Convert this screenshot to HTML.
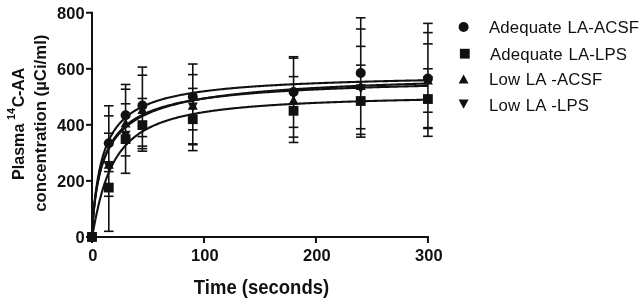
<!DOCTYPE html>
<html><head><meta charset="utf-8"><style>
html,body{margin:0;padding:0;background:#fff;}
svg{display:block;will-change:transform;}
text{font-family:"Liberation Sans",sans-serif;fill:#111;}
.tk{font-weight:bold;font-size:16.5px;}
.lg{font-size:16.8px;word-spacing:0.9px;letter-spacing:0.12px;}
.ti{font-weight:bold;font-size:18.5px;}
.yt{font-weight:bold;font-size:16.6px;}
</style></head><body>
<svg width="644" height="304" viewBox="0 0 644 304">
<rect width="644" height="304" fill="#fff"/>
<g fill="none" stroke="#111" stroke-width="2.1"><polyline points="92.00,236.90 92.28,231.21 92.56,226.58 92.84,222.44 93.12,218.64 93.40,215.12 93.68,211.83 93.96,208.74 94.24,205.83 94.52,203.07 94.80,200.45 95.08,197.96 95.36,195.59 95.64,193.32 95.92,191.15 96.20,189.08 96.48,187.09 96.76,185.17 97.04,183.33 97.32,181.56 97.60,179.86 97.88,178.21 98.16,176.63 98.44,175.09 98.72,173.61 99.00,172.18 99.28,170.79 99.56,169.44 99.84,168.14 100.12,166.88 100.40,165.65 100.68,164.46 100.96,163.30 101.24,162.17 101.52,161.08 101.80,160.01 102.08,158.98 102.36,157.97 102.64,156.99 102.92,156.03 103.20,155.09 104.32,151.58 105.44,148.38 106.56,145.45 107.68,142.76 108.80,140.28 109.92,137.99 111.03,135.86 112.15,133.87 113.27,132.02 114.39,130.28 115.51,128.66 116.63,127.13 117.75,125.68 118.87,124.32 119.99,123.03 121.11,121.81 122.23,120.65 123.35,119.55 124.47,118.50 125.59,117.50 126.71,116.55 127.83,115.64 128.95,114.77 130.07,113.94 131.19,113.14 132.31,112.37 133.43,111.64 134.55,110.93 135.67,110.25 136.79,109.60 137.91,108.97 139.03,108.36 140.15,107.78 141.27,107.21 142.39,106.66 143.51,106.14 144.63,105.62 145.75,105.13 146.87,104.65 147.99,104.19 149.10,103.74 150.22,103.30 151.34,102.88 152.46,102.47 153.58,102.07 154.70,101.68 155.82,101.31 156.94,100.94 158.06,100.58 159.18,100.24 160.30,99.90 161.42,99.57 162.54,99.25 163.66,98.94 164.78,98.63 165.90,98.33 167.02,98.04 168.14,97.76 169.26,97.49 170.38,97.22 171.50,96.95 172.62,96.69 173.74,96.44 174.86,96.20 175.98,95.95 177.10,95.72 178.22,95.49 179.34,95.26 180.46,95.04 181.58,94.83 182.70,94.61 183.82,94.41 184.94,94.20 186.05,94.00 187.17,93.81 188.29,93.62 189.41,93.43 190.53,93.24 191.65,93.06 192.77,92.88 193.89,92.71 195.01,92.54 196.13,92.37 197.25,92.21 198.37,92.04 199.49,91.88 200.61,91.73 201.73,91.57 202.85,91.42 203.97,91.27 205.09,91.13 206.21,90.99 207.33,90.84 208.45,90.71 209.57,90.57 210.69,90.43 211.81,90.30 212.93,90.17 214.05,90.04 215.17,89.92 216.29,89.79 217.41,89.67 218.53,89.55 219.65,89.43 220.77,89.32 221.89,89.20 223.00,89.09 224.12,88.97 225.24,88.86 226.36,88.76 227.48,88.65 228.60,88.54 229.72,88.44 230.84,88.34 231.96,88.24 233.08,88.14 234.20,88.04 235.32,87.94 236.44,87.85 237.56,87.75 238.68,87.66 239.80,87.57 240.92,87.47 242.04,87.39 243.16,87.30 244.28,87.21 245.40,87.12 246.52,87.04 247.64,86.95 248.76,86.87 249.88,86.79 251.00,86.71 252.12,86.63 253.24,86.55 254.36,86.47 255.48,86.39 256.60,86.32 257.72,86.24 258.84,86.17 259.95,86.09 261.07,86.02 262.19,85.95 263.31,85.88 264.43,85.81 265.55,85.74 266.67,85.67 267.79,85.60 268.91,85.54 270.03,85.47 271.15,85.40 272.27,85.34 273.39,85.28 274.51,85.21 275.63,85.15 276.75,85.09 277.87,85.03 278.99,84.96 280.11,84.90 281.23,84.84 282.35,84.79 283.47,84.73 284.59,84.67 285.71,84.61 286.83,84.56 287.95,84.50 289.07,84.44 290.19,84.39 291.31,84.34 292.43,84.28 293.55,84.23 294.67,84.18 295.79,84.12 296.91,84.07 298.02,84.02 299.14,83.97 300.26,83.92 301.38,83.87 302.50,83.82 303.62,83.77 304.74,83.72 305.86,83.68 306.98,83.63 308.10,83.58 309.22,83.53 310.34,83.49 311.46,83.44 312.58,83.40 313.70,83.35 314.82,83.31 315.94,83.26 317.06,83.22 318.18,83.18 319.30,83.13 320.42,83.09 321.54,83.05 322.66,83.01 323.78,82.97 324.90,82.92 326.02,82.88 327.14,82.84 328.26,82.80 329.38,82.76 330.50,82.72 331.62,82.69 332.74,82.65 333.86,82.61 334.97,82.57 336.09,82.53 337.21,82.49 338.33,82.46 339.45,82.42 340.57,82.38 341.69,82.35 342.81,82.31 343.93,82.28 345.05,82.24 346.17,82.21 347.29,82.17 348.41,82.14 349.53,82.10 350.65,82.07 351.77,82.03 352.89,82.00 354.01,81.97 355.13,81.93 356.25,81.90 357.37,81.87 358.49,81.84 359.61,81.80 360.73,81.77 361.85,81.74 362.97,81.71 364.09,81.68 365.21,81.65 366.33,81.62 367.45,81.59 368.57,81.56 369.69,81.53 370.81,81.50 371.92,81.47 373.04,81.44 374.16,81.41 375.28,81.38 376.40,81.35 377.52,81.32 378.64,81.29 379.76,81.27 380.88,81.24 382.00,81.21 383.12,81.18 384.24,81.16 385.36,81.13 386.48,81.10 387.60,81.08 388.72,81.05 389.84,81.02 390.96,81.00 392.08,80.97 393.20,80.94 394.32,80.92 395.44,80.89 396.56,80.87 397.68,80.84 398.80,80.82 399.92,80.79 401.04,80.77 402.16,80.74 403.28,80.72 404.40,80.70 405.52,80.67 406.64,80.65 407.76,80.62 408.88,80.60 409.99,80.58 411.11,80.55 412.23,80.53 413.35,80.51 414.47,80.48 415.59,80.46 416.71,80.44 417.83,80.42 418.95,80.39 420.07,80.37 421.19,80.35 422.31,80.33 423.43,80.31 424.55,80.28 425.67,80.26 426.79,80.24 427.91,80.22"/><polyline points="92.00,236.90 92.28,229.43 92.56,224.51 92.84,220.39 93.12,216.76 93.40,213.50 93.68,210.51 93.96,207.74 94.24,205.17 94.52,202.75 94.80,200.48 95.08,198.34 95.36,196.30 95.64,194.37 95.92,192.52 96.20,190.76 96.48,189.07 96.76,187.45 97.04,185.89 97.32,184.40 97.60,182.96 97.88,181.57 98.16,180.23 98.44,178.93 98.72,177.68 99.00,176.46 99.28,175.29 99.56,174.14 99.84,173.04 100.12,171.96 100.40,170.92 100.68,169.90 100.96,168.91 101.24,167.95 101.52,167.01 101.80,166.10 102.08,165.21 102.36,164.34 102.64,163.49 102.92,162.66 103.20,161.85 104.32,158.79 105.44,155.98 106.56,153.40 107.68,151.00 108.80,148.77 109.92,146.70 111.03,144.75 112.15,142.93 113.27,141.22 114.39,139.60 115.51,138.07 116.63,136.62 117.75,135.25 118.87,133.94 119.99,132.70 121.11,131.52 122.23,130.38 123.35,129.30 124.47,128.27 125.59,127.28 126.71,126.32 127.83,125.41 128.95,124.53 130.07,123.69 131.19,122.87 132.31,122.09 133.43,121.33 134.55,120.60 135.67,119.89 136.79,119.21 137.91,118.55 139.03,117.91 140.15,117.29 141.27,116.69 142.39,116.10 143.51,115.54 144.63,114.99 145.75,114.45 146.87,113.94 147.99,113.43 149.10,112.94 150.22,112.46 151.34,112.00 152.46,111.54 153.58,111.10 154.70,110.67 155.82,110.25 156.94,109.84 158.06,109.44 159.18,109.05 160.30,108.67 161.42,108.30 162.54,107.93 163.66,107.57 164.78,107.23 165.90,106.89 167.02,106.55 168.14,106.23 169.26,105.91 170.38,105.59 171.50,105.29 172.62,104.99 173.74,104.69 174.86,104.40 175.98,104.12 177.10,103.84 178.22,103.57 179.34,103.30 180.46,103.04 181.58,102.78 182.70,102.53 183.82,102.28 184.94,102.04 186.05,101.80 187.17,101.56 188.29,101.33 189.41,101.11 190.53,100.88 191.65,100.66 192.77,100.45 193.89,100.24 195.01,100.03 196.13,99.82 197.25,99.62 198.37,99.42 199.49,99.22 200.61,99.03 201.73,98.84 202.85,98.65 203.97,98.47 205.09,98.29 206.21,98.11 207.33,97.93 208.45,97.76 209.57,97.59 210.69,97.42 211.81,97.25 212.93,97.09 214.05,96.93 215.17,96.77 216.29,96.61 217.41,96.46 218.53,96.31 219.65,96.15 220.77,96.01 221.89,95.86 223.00,95.71 224.12,95.57 225.24,95.43 226.36,95.29 227.48,95.15 228.60,95.02 229.72,94.88 230.84,94.75 231.96,94.62 233.08,94.49 234.20,94.36 235.32,94.24 236.44,94.11 237.56,93.99 238.68,93.87 239.80,93.75 240.92,93.63 242.04,93.51 243.16,93.40 244.28,93.28 245.40,93.17 246.52,93.06 247.64,92.95 248.76,92.84 249.88,92.73 251.00,92.62 252.12,92.51 253.24,92.41 254.36,92.31 255.48,92.20 256.60,92.10 257.72,92.00 258.84,91.90 259.95,91.80 261.07,91.71 262.19,91.61 263.31,91.51 264.43,91.42 265.55,91.33 266.67,91.23 267.79,91.14 268.91,91.05 270.03,90.96 271.15,90.87 272.27,90.79 273.39,90.70 274.51,90.61 275.63,90.53 276.75,90.44 277.87,90.36 278.99,90.28 280.11,90.19 281.23,90.11 282.35,90.03 283.47,89.95 284.59,89.87 285.71,89.80 286.83,89.72 287.95,89.64 289.07,89.56 290.19,89.49 291.31,89.41 292.43,89.34 293.55,89.27 294.67,89.19 295.79,89.12 296.91,89.05 298.02,88.98 299.14,88.91 300.26,88.84 301.38,88.77 302.50,88.70 303.62,88.63 304.74,88.57 305.86,88.50 306.98,88.43 308.10,88.37 309.22,88.30 310.34,88.24 311.46,88.17 312.58,88.11 313.70,88.05 314.82,87.98 315.94,87.92 317.06,87.86 318.18,87.80 319.30,87.74 320.42,87.68 321.54,87.62 322.66,87.56 323.78,87.50 324.90,87.44 326.02,87.38 327.14,87.33 328.26,87.27 329.38,87.21 330.50,87.16 331.62,87.10 332.74,87.05 333.86,86.99 334.97,86.94 336.09,86.88 337.21,86.83 338.33,86.78 339.45,86.72 340.57,86.67 341.69,86.62 342.81,86.57 343.93,86.51 345.05,86.46 346.17,86.41 347.29,86.36 348.41,86.31 349.53,86.26 350.65,86.21 351.77,86.17 352.89,86.12 354.01,86.07 355.13,86.02 356.25,85.97 357.37,85.93 358.49,85.88 359.61,85.83 360.73,85.79 361.85,85.74 362.97,85.70 364.09,85.65 365.21,85.61 366.33,85.56 367.45,85.52 368.57,85.47 369.69,85.43 370.81,85.38 371.92,85.34 373.04,85.30 374.16,85.26 375.28,85.21 376.40,85.17 377.52,85.13 378.64,85.09 379.76,85.05 380.88,85.01 382.00,84.96 383.12,84.92 384.24,84.88 385.36,84.84 386.48,84.80 387.60,84.76 388.72,84.73 389.84,84.69 390.96,84.65 392.08,84.61 393.20,84.57 394.32,84.53 395.44,84.49 396.56,84.46 397.68,84.42 398.80,84.38 399.92,84.35 401.04,84.31 402.16,84.27 403.28,84.24 404.40,84.20 405.52,84.16 406.64,84.13 407.76,84.09 408.88,84.06 409.99,84.02 411.11,83.99 412.23,83.95 413.35,83.92 414.47,83.88 415.59,83.85 416.71,83.82 417.83,83.78 418.95,83.75 420.07,83.72 421.19,83.68 422.31,83.65 423.43,83.62 424.55,83.58 425.67,83.55 426.79,83.52 427.91,83.49"/><polyline points="92.00,236.90 92.28,230.80 92.56,226.27 92.84,222.32 93.12,218.77 93.40,215.51 93.68,212.49 93.96,209.68 94.24,207.03 94.52,204.54 94.80,202.18 95.08,199.94 95.36,197.81 95.64,195.78 95.92,193.83 96.20,191.97 96.48,190.19 96.76,188.47 97.04,186.83 97.32,185.24 97.60,183.71 97.88,182.24 98.16,180.81 98.44,179.43 98.72,178.10 99.00,176.81 99.28,175.56 99.56,174.35 99.84,173.17 100.12,172.03 100.40,170.92 100.68,169.84 100.96,168.79 101.24,167.77 101.52,166.78 101.80,165.81 102.08,164.86 102.36,163.94 102.64,163.05 102.92,162.17 103.20,161.32 104.32,158.09 105.44,155.14 106.56,152.43 107.68,149.93 108.80,147.61 109.92,145.46 111.03,143.45 112.15,141.57 113.27,139.81 114.39,138.15 115.51,136.59 116.63,135.12 117.75,133.73 118.87,132.41 119.99,131.15 121.11,129.96 122.23,128.83 123.35,127.75 124.47,126.72 125.59,125.73 126.71,124.79 127.83,123.89 128.95,123.02 130.07,122.19 131.19,121.39 132.31,120.62 133.43,119.88 134.55,119.17 135.67,118.48 136.79,117.82 137.91,117.18 139.03,116.56 140.15,115.97 141.27,115.39 142.39,114.83 143.51,114.29 144.63,113.76 145.75,113.25 146.87,112.76 147.99,112.28 149.10,111.81 150.22,111.36 151.34,110.92 152.46,110.50 153.58,110.08 154.70,109.67 155.82,109.28 156.94,108.90 158.06,108.52 159.18,108.16 160.30,107.80 161.42,107.46 162.54,107.12 163.66,106.79 164.78,106.46 165.90,106.15 167.02,105.84 168.14,105.54 169.26,105.25 170.38,104.96 171.50,104.68 172.62,104.40 173.74,104.13 174.86,103.87 175.98,103.61 177.10,103.36 178.22,103.11 179.34,102.86 180.46,102.63 181.58,102.39 182.70,102.16 183.82,101.94 184.94,101.72 186.05,101.50 187.17,101.29 188.29,101.08 189.41,100.88 190.53,100.68 191.65,100.48 192.77,100.29 193.89,100.10 195.01,99.91 196.13,99.72 197.25,99.54 198.37,99.37 199.49,99.19 200.61,99.02 201.73,98.85 202.85,98.68 203.97,98.52 205.09,98.36 206.21,98.20 207.33,98.05 208.45,97.89 209.57,97.74 210.69,97.59 211.81,97.45 212.93,97.30 214.05,97.16 215.17,97.02 216.29,96.88 217.41,96.75 218.53,96.61 219.65,96.48 220.77,96.35 221.89,96.22 223.00,96.09 224.12,95.97 225.24,95.85 226.36,95.73 227.48,95.61 228.60,95.49 229.72,95.37 230.84,95.26 231.96,95.14 233.08,95.03 234.20,94.92 235.32,94.81 236.44,94.70 237.56,94.60 238.68,94.49 239.80,94.39 240.92,94.28 242.04,94.18 243.16,94.08 244.28,93.98 245.40,93.89 246.52,93.79 247.64,93.70 248.76,93.60 249.88,93.51 251.00,93.42 252.12,93.33 253.24,93.24 254.36,93.15 255.48,93.06 256.60,92.97 257.72,92.89 258.84,92.80 259.95,92.72 261.07,92.64 262.19,92.55 263.31,92.47 264.43,92.39 265.55,92.31 266.67,92.23 267.79,92.16 268.91,92.08 270.03,92.00 271.15,91.93 272.27,91.85 273.39,91.78 274.51,91.71 275.63,91.64 276.75,91.56 277.87,91.49 278.99,91.42 280.11,91.35 281.23,91.29 282.35,91.22 283.47,91.15 284.59,91.08 285.71,91.02 286.83,90.95 287.95,90.89 289.07,90.82 290.19,90.76 291.31,90.70 292.43,90.64 293.55,90.57 294.67,90.51 295.79,90.45 296.91,90.39 298.02,90.33 299.14,90.27 300.26,90.22 301.38,90.16 302.50,90.10 303.62,90.04 304.74,89.99 305.86,89.93 306.98,89.88 308.10,89.82 309.22,89.77 310.34,89.71 311.46,89.66 312.58,89.61 313.70,89.56 314.82,89.50 315.94,89.45 317.06,89.40 318.18,89.35 319.30,89.30 320.42,89.25 321.54,89.20 322.66,89.15 323.78,89.10 324.90,89.06 326.02,89.01 327.14,88.96 328.26,88.91 329.38,88.87 330.50,88.82 331.62,88.77 332.74,88.73 333.86,88.68 334.97,88.64 336.09,88.59 337.21,88.55 338.33,88.51 339.45,88.46 340.57,88.42 341.69,88.38 342.81,88.34 343.93,88.29 345.05,88.25 346.17,88.21 347.29,88.17 348.41,88.13 349.53,88.09 350.65,88.05 351.77,88.01 352.89,87.97 354.01,87.93 355.13,87.89 356.25,87.85 357.37,87.81 358.49,87.77 359.61,87.74 360.73,87.70 361.85,87.66 362.97,87.62 364.09,87.59 365.21,87.55 366.33,87.51 367.45,87.48 368.57,87.44 369.69,87.41 370.81,87.37 371.92,87.34 373.04,87.30 374.16,87.27 375.28,87.23 376.40,87.20 377.52,87.16 378.64,87.13 379.76,87.10 380.88,87.06 382.00,87.03 383.12,87.00 384.24,86.97 385.36,86.93 386.48,86.90 387.60,86.87 388.72,86.84 389.84,86.81 390.96,86.77 392.08,86.74 393.20,86.71 394.32,86.68 395.44,86.65 396.56,86.62 397.68,86.59 398.80,86.56 399.92,86.53 401.04,86.50 402.16,86.47 403.28,86.44 404.40,86.41 405.52,86.38 406.64,86.36 407.76,86.33 408.88,86.30 409.99,86.27 411.11,86.24 412.23,86.22 413.35,86.19 414.47,86.16 415.59,86.13 416.71,86.11 417.83,86.08 418.95,86.05 420.07,86.03 421.19,86.00 422.31,85.97 423.43,85.95 424.55,85.92 425.67,85.89 426.79,85.87 427.91,85.84"/><polyline points="92.00,236.90 92.28,235.70 92.56,234.32 92.84,232.88 93.12,231.41 93.40,229.94 93.68,228.46 93.96,226.99 94.24,225.52 94.52,224.06 94.80,222.62 95.08,221.20 95.36,219.79 95.64,218.39 95.92,217.02 96.20,215.66 96.48,214.33 96.76,213.01 97.04,211.72 97.32,210.44 97.60,209.18 97.88,207.95 98.16,206.73 98.44,205.53 98.72,204.35 99.00,203.19 99.28,202.05 99.56,200.93 99.84,199.82 100.12,198.74 100.40,197.67 100.68,196.62 100.96,195.58 101.24,194.57 101.52,193.57 101.80,192.58 102.08,191.62 102.36,190.67 102.64,189.73 102.92,188.81 103.20,187.90 104.32,184.42 105.44,181.15 106.56,178.08 107.68,175.20 108.80,172.48 109.92,169.92 111.03,167.51 112.15,165.23 113.27,163.07 114.39,161.02 115.51,159.09 116.63,157.25 117.75,155.50 118.87,153.84 119.99,152.26 121.11,150.75 122.23,149.31 123.35,147.94 124.47,146.63 125.59,145.37 126.71,144.17 127.83,143.02 128.95,141.92 130.07,140.86 131.19,139.84 132.31,138.86 133.43,137.93 134.55,137.02 135.67,136.15 136.79,135.31 137.91,134.51 139.03,133.73 140.15,132.98 141.27,132.25 142.39,131.55 143.51,130.87 144.63,130.21 145.75,129.58 146.87,128.97 147.99,128.37 149.10,127.79 150.22,127.24 151.34,126.69 152.46,126.17 153.58,125.66 154.70,125.16 155.82,124.68 156.94,124.21 158.06,123.76 159.18,123.32 160.30,122.89 161.42,122.47 162.54,122.06 163.66,121.66 164.78,121.28 165.90,120.90 167.02,120.53 168.14,120.17 169.26,119.83 170.38,119.49 171.50,119.15 172.62,118.83 173.74,118.51 174.86,118.20 175.98,117.90 177.10,117.61 178.22,117.32 179.34,117.04 180.46,116.76 181.58,116.49 182.70,116.23 183.82,115.97 184.94,115.72 186.05,115.47 187.17,115.23 188.29,114.99 189.41,114.76 190.53,114.53 191.65,114.31 192.77,114.09 193.89,113.88 195.01,113.67 196.13,113.46 197.25,113.26 198.37,113.06 199.49,112.87 200.61,112.68 201.73,112.49 202.85,112.31 203.97,112.12 205.09,111.95 206.21,111.77 207.33,111.60 208.45,111.44 209.57,111.27 210.69,111.11 211.81,110.95 212.93,110.79 214.05,110.64 215.17,110.49 216.29,110.34 217.41,110.19 218.53,110.05 219.65,109.91 220.77,109.77 221.89,109.63 223.00,109.50 224.12,109.37 225.24,109.24 226.36,109.11 227.48,108.98 228.60,108.86 229.72,108.74 230.84,108.61 231.96,108.50 233.08,108.38 234.20,108.26 235.32,108.15 236.44,108.04 237.56,107.93 238.68,107.82 239.80,107.71 240.92,107.61 242.04,107.50 243.16,107.40 244.28,107.30 245.40,107.20 246.52,107.10 247.64,107.00 248.76,106.91 249.88,106.81 251.00,106.72 252.12,106.63 253.24,106.54 254.36,106.45 255.48,106.36 256.60,106.27 257.72,106.19 258.84,106.10 259.95,106.02 261.07,105.93 262.19,105.85 263.31,105.77 264.43,105.69 265.55,105.61 266.67,105.54 267.79,105.46 268.91,105.38 270.03,105.31 271.15,105.23 272.27,105.16 273.39,105.09 274.51,105.02 275.63,104.95 276.75,104.88 277.87,104.81 278.99,104.74 280.11,104.67 281.23,104.61 282.35,104.54 283.47,104.48 284.59,104.41 285.71,104.35 286.83,104.29 287.95,104.22 289.07,104.16 290.19,104.10 291.31,104.04 292.43,103.98 293.55,103.92 294.67,103.86 295.79,103.81 296.91,103.75 298.02,103.69 299.14,103.64 300.26,103.58 301.38,103.53 302.50,103.47 303.62,103.42 304.74,103.37 305.86,103.32 306.98,103.26 308.10,103.21 309.22,103.16 310.34,103.11 311.46,103.06 312.58,103.01 313.70,102.96 314.82,102.92 315.94,102.87 317.06,102.82 318.18,102.77 319.30,102.73 320.42,102.68 321.54,102.64 322.66,102.59 323.78,102.55 324.90,102.50 326.02,102.46 327.14,102.42 328.26,102.37 329.38,102.33 330.50,102.29 331.62,102.25 332.74,102.20 333.86,102.16 334.97,102.12 336.09,102.08 337.21,102.04 338.33,102.00 339.45,101.96 340.57,101.93 341.69,101.89 342.81,101.85 343.93,101.81 345.05,101.77 346.17,101.74 347.29,101.70 348.41,101.66 349.53,101.63 350.65,101.59 351.77,101.56 352.89,101.52 354.01,101.49 355.13,101.45 356.25,101.42 357.37,101.38 358.49,101.35 359.61,101.32 360.73,101.28 361.85,101.25 362.97,101.22 364.09,101.18 365.21,101.15 366.33,101.12 367.45,101.09 368.57,101.06 369.69,101.03 370.81,101.00 371.92,100.96 373.04,100.93 374.16,100.90 375.28,100.87 376.40,100.84 377.52,100.82 378.64,100.79 379.76,100.76 380.88,100.73 382.00,100.70 383.12,100.67 384.24,100.64 385.36,100.62 386.48,100.59 387.60,100.56 388.72,100.53 389.84,100.51 390.96,100.48 392.08,100.45 393.20,100.43 394.32,100.40 395.44,100.37 396.56,100.35 397.68,100.32 398.80,100.30 399.92,100.27 401.04,100.25 402.16,100.22 403.28,100.20 404.40,100.17 405.52,100.15 406.64,100.12 407.76,100.10 408.88,100.08 409.99,100.05 411.11,100.03 412.23,100.01 413.35,99.98 414.47,99.96 415.59,99.94 416.71,99.91 417.83,99.89 418.95,99.87 420.07,99.85 421.19,99.82 422.31,99.80 423.43,99.78 424.55,99.76 425.67,99.74 426.79,99.72 427.91,99.70"/></g>
<g fill="none" stroke="#111" stroke-width="1.6"><path d="M108.80 105.77V231.30"/><path d="M104.00 105.77H113.60"/><path d="M104.00 115.85H113.60"/><path d="M104.00 133.23H113.60"/><path d="M104.00 161.81H113.60"/><path d="M104.00 171.61H113.60"/><path d="M104.00 196.27H113.60"/><path d="M104.00 231.30H113.60"/><path d="M125.59 84.47V173.29"/><path d="M120.79 84.47H130.39"/><path d="M120.79 89.23H130.39"/><path d="M120.79 103.81H130.39"/><path d="M120.79 155.92H130.39"/><path d="M120.79 173.29H130.39"/><path d="M142.39 67.10V151.16"/><path d="M137.59 67.10H147.19"/><path d="M137.59 75.22H147.19"/><path d="M137.59 98.48H147.19"/><path d="M137.59 136.59H147.19"/><path d="M137.59 146.12H147.19"/><path d="M137.59 148.64H147.19"/><path d="M137.59 151.16H147.19"/><path d="M192.77 64.02V150.60"/><path d="M187.97 64.02H197.57"/><path d="M187.97 74.66H197.57"/><path d="M187.97 88.39H197.57"/><path d="M187.97 129.86H197.57"/><path d="M187.97 143.87H197.57"/><path d="M187.97 144.71H197.57"/><path d="M187.97 150.60H197.57"/><path d="M293.55 56.73V142.47"/><path d="M288.75 56.73H298.35"/><path d="M288.75 58.13H298.35"/><path d="M288.75 76.63H298.35"/><path d="M288.75 127.34H298.35"/><path d="M288.75 137.15H298.35"/><path d="M288.75 142.47H298.35"/><path d="M360.73 17.78V137.15"/><path d="M355.93 17.78H365.53"/><path d="M355.93 28.99H365.53"/><path d="M355.93 46.36H365.53"/><path d="M355.93 65.14H365.53"/><path d="M355.93 128.74H365.53"/><path d="M355.93 134.35H365.53"/><path d="M355.93 137.15H365.53"/><path d="M427.91 23.39V136.31"/><path d="M423.11 23.39H432.71"/><path d="M423.11 32.63H432.71"/><path d="M423.11 43.84H432.71"/><path d="M423.11 68.78H432.71"/><path d="M423.11 112.21H432.71"/><path d="M423.11 127.62H432.71"/><path d="M423.11 128.46H432.71"/><path d="M423.11 136.31H432.71"/></g>
<g fill="#111"><circle cx="108.80" cy="143.31" r="5.00"/><rect x="103.90" y="182.68" width="9.80" height="9.80"/><path d="M108.80 159.45L113.80 168.65L103.80 168.65Z"/><path d="M108.80 171.45L113.80 162.25L103.80 162.25Z"/><circle cx="125.59" cy="115.29" r="5.00"/><rect x="120.69" y="134.21" width="9.80" height="9.80"/><path d="M125.59 118.26L130.59 127.46L120.59 127.46Z"/><path d="M125.59 140.07L130.59 130.87L120.59 130.87Z"/><circle cx="142.39" cy="105.49" r="5.00"/><rect x="137.49" y="120.20" width="9.80" height="9.80"/><path d="M142.39 104.81L147.39 114.01L137.39 114.01Z"/><path d="M142.39 114.57L147.39 105.37L137.39 105.37Z"/><circle cx="192.77" cy="96.80" r="5.00"/><rect x="187.87" y="114.32" width="9.80" height="9.80"/><path d="M192.77 100.61L197.77 109.81L187.77 109.81Z"/><path d="M192.77 111.77L197.77 102.57L187.77 102.57Z"/><circle cx="293.55" cy="92.04" r="5.00"/><rect x="288.65" y="105.91" width="9.80" height="9.80"/><path d="M293.55 95.28L298.55 104.48L288.55 104.48Z"/><path d="M293.55 99.16L298.55 89.96L288.55 89.96Z"/><circle cx="360.73" cy="72.98" r="5.00"/><rect x="355.83" y="96.10" width="9.80" height="9.80"/><path d="M360.73 80.71L365.73 89.91L355.73 89.91Z"/><path d="M360.73 93.55L365.73 84.35L355.73 84.35Z"/><circle cx="427.91" cy="78.59" r="5.00"/><rect x="423.01" y="94.14" width="9.80" height="9.80"/><path d="M427.91 75.39L432.91 84.59L422.91 84.59Z"/><path d="M427.91 85.15L432.91 75.95L422.91 75.95Z"/><circle cx="92.00" cy="236.90" r="5.00"/><rect x="87.10" y="232.00" width="9.80" height="9.80"/><path d="M92.00 232.30L97.00 241.50L87.00 241.50Z"/><path d="M92.00 241.50L97.00 232.30L87.00 232.30Z"/></g>
<g fill="none" stroke="#111" stroke-width="2"><path d="M92 11.84V237.90"/><path d="M91 236.90H428.91"/><path d="M86 236.90H92"/><path d="M86 180.86H92"/><path d="M86 124.82H92"/><path d="M86 68.78H92"/><path d="M86 12.74H92"/><path d="M92.00 236.90V243"/><path d="M203.97 236.90V243"/><path d="M315.94 236.90V243"/><path d="M427.91 236.90V243"/></g>
<g class="tk"><text x="84.6" y="243.00" text-anchor="end">0</text><text x="84.6" y="186.96" text-anchor="end">200</text><text x="84.6" y="130.92" text-anchor="end">400</text><text x="84.6" y="74.88" text-anchor="end">600</text><text x="84.6" y="18.84" text-anchor="end">800</text><text x="92.90" y="261.3" text-anchor="middle">0</text><text x="204.87" y="261.3" text-anchor="middle">100</text><text x="316.84" y="261.3" text-anchor="middle">200</text><text x="428.81" y="261.3" text-anchor="middle">300</text></g>
<text class="ti" x="261.5" y="294" text-anchor="middle" transform="translate(0,294) scale(1,1.045) translate(0,-294)">Time (seconds)</text>
<g class="yt" transform="rotate(-90)">
<text x="-180" y="23.8" font-size="16.1">Plasma<tspan font-size="11" dx="3.6" dy="-8.6">14</tspan><tspan dy="8.6" dx="0.5" letter-spacing="-0.3">C-AA</tspan></text>
<text x="-211.8" y="45.7" font-size="16.75">concentration (µCi/ml)</text>
</g>
<g fill="#111"><circle cx="463.60" cy="27.00" r="5.00"/><text x="489.0" y="32.80" class="lg">Adequate LA-ACSF</text><rect x="459.90" y="48.80" width="9.80" height="9.80"/><text x="490.0" y="59.60" class="lg">Adequate LA-LPS</text><path d="M463.60 74.40L468.60 83.60L458.60 83.60Z"/><text x="489.0" y="84.80" class="lg">Low LA -ACSF</text><path d="M463.60 108.80L468.60 99.60L458.60 99.60Z"/><text x="489.0" y="110.60" class="lg">Low LA -LPS</text></g>
</svg>
</body></html>
